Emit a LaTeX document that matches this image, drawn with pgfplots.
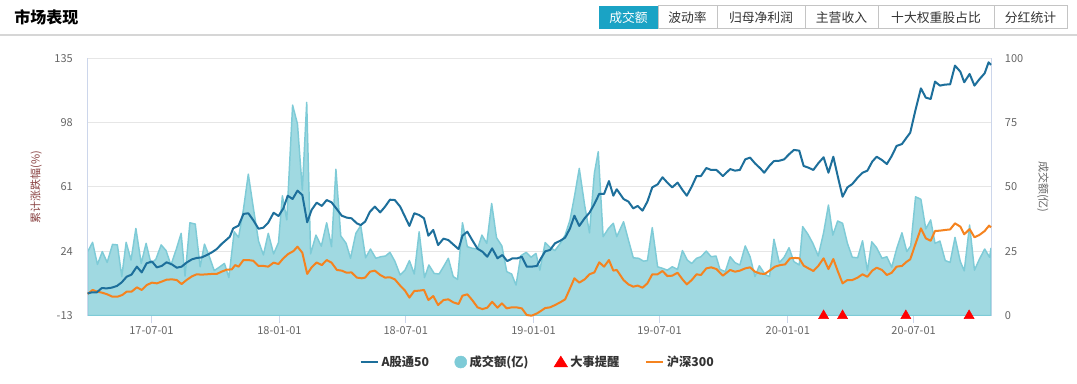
\documentclass[border=0pt]{standalone}
\usepackage{fontspec}
\setmainfont{Noto Sans CJK SC}
\usepackage{pgfplots}
\pgfplotsset{compat=1.18}
\definecolor{blueline}{HTML}{1D6F9B}
\definecolor{orangeline}{HTML}{F5831F}
\definecolor{areafill}{HTML}{A0D9E1}
\definecolor{areaedge}{HTML}{7ECBD7}
\definecolor{axiscol}{HTML}{CCD6EB}
\definecolor{gridcol}{HTML}{E6E6E6}
\definecolor{tickcol}{HTML}{666666}
\definecolor{llabelcol}{HTML}{8B4444}
\definecolor{rlabelcol}{HTML}{666666}
\definecolor{legtext}{HTML}{333333}
\definecolor{activebtn}{HTML}{1AA3C5}
\definecolor{btnborder}{HTML}{C4C4C4}
\definecolor{sepcol}{HTML}{D6D6D6}
\newcommand\ticksize{\fontsize{8.25pt}{9pt}\selectfont}
\newcommand\legfont{\fontsize{9.2pt}{10pt}\selectfont\bfseries}
\newcommand\btnfont{\fontsize{9.6pt}{10pt}\selectfont}
\newcommand\titlefont{\fontsize{12pt}{13pt}\selectfont\bfseries}

\pgfplotstableread{
w v
0 24.9
1.0 28.5
2.0 19.9
3.0 24.9
4.0 20.7
5.1 27.7
6.1 27.5
7.0 15.2
7.9 28.5
8.9 21.6
9.9 33.9
11.0 20.3
12.0 28.1
13.0 20.3
14.0 21.9
15.1 27.5
16.1 25.3
17.1 19.7
18.2 25.8
19.2 32.0
20.0 15.4
21.0 36.1
22.1 35.6
23.1 19.0
24.0 27.8
25.0 22.9
26.0 17.5
27.0 18.8
28.1 20.3
29.0 14.8
30.1 32.6
31.0 30.4
32.0 41.3
33.0 55.0
34.0 42.3
35.1 29.0
36.1 23.6
37.1 32.0
38.2 24.0
39.2 28.4
40.0 46.6
40.9 37.2
42.1 81.8
43.1 74.5
44.1 48.8
45.0 82.9
45.8 24.0
46.9 31.3
48.0 27.0
49.1 36.1
50.1 26.8
51.0 56.9
52.0 31.0
53.1 28.1
54.0 22.3
55.1 32.0
56.1 35.0
57.1 22.5
58.1 25.9
59.2 22.3
60.2 22.9
61.2 23.2
62.1 24.6
63.1 21.2
64.2 15.8
65.2 17.7
66.1 21.4
67.1 16.2
68.1 32.6
69.2 14.8
70.1 19.7
71.2 16.4
72.2 16.2
73.1 19.0
74.1 22.3
75.1 15.2
76.0 14.1
77.0 36.1
78.0 26.8
79.0 26.2
80.1 25.9
81.0 31.3
82.0 28.1
83.0 43.6
84.0 30.3
85.1 27.1
86.1 17.1
87.1 16.2
88.0 11.9
89.0 23.3
90.1 24.6
91.1 22.7
92.1 24.2
92.9 17.7
94.0 28.4
95.0 26.5
96.0 25.3
97.1 28.1
98.1 31.3
99.1 37.2
100.0 46.2
101.0 57.2
102.1 43.0
103.1 32.2
104.1 55.3
104.9 63.7
105.9 30.7
107.0 33.9
108.0 35.9
108.7 30.7
110.1 36.5
111.1 29.4
112.1 22.5
113.2 22.3
114.2 21.2
115.0 21.4
116.0 34.2
117.1 19.0
118.1 18.4
119.1 17.7
120.1 19.0
121.2 18.0
122.2 25.3
123.2 21.6
124.1 20.3
125.1 22.3
126.0 22.9
127.1 25.1
128.1 22.9
129.1 23.2
129.9 18.0
131.0 17.1
132.0 22.9
133.0 20.6
134.0 19.7
135.1 27.1
136.1 22.9
137.1 15.2
138.0 19.4
139.2 16.0
140.1 15.2
141.0 29.7
142.1 20.6
143.1 22.7
144.1 26.4
145.1 21.0
146.2 19.7
146.9 34.6
148.0 31.6
149.0 28.1
150.1 23.2
151.2 32.2
152.2 43.0
153.1 31.3
154.1 36.8
155.1 35.9
156.1 28.1
157.1 22.7
158.2 22.5
159.2 29.1
160.2 17.5
161.1 28.7
162.1 26.4
163.2 22.3
164.2 22.9
165.2 18.8
166.2 25.9
167.3 32.2
168.3 24.9
169.1 27.1
170.1 46.2
171.2 45.2
172.2 33.7
173.2 37.2
174.1 28.1
175.1 29.0
176.2 21.4
177.2 20.7
178.2 30.4
179.3 21.0
180.1 17.4
181.2 35.2
182.2 17.7
183.2 21.9
184.3 25.9
185.3 22.7
185.6 26.2
}\volume

\pgfplotstableread{
w v
0 -0.2
0.8 0.4
1.85 0.4
2.9 2.9
3.9 2.7
4.9 3.1
6.0 4.1
7.0 6.2
8.0 9.4
9.0 10.6
10.1 15.2
11.1 11.9
12.1 17.1
13.2 18.2
14.2 14.8
15.2 15.6
16.2 17.7
17.3 16.5
18.3 14.6
19.3 15.2
20.3 17.5
21.4 19.4
22.4 20.2
23.4 20.5
24.5 21.9
25.5 23.4
26.5 25.3
27.5 28.2
28.6 30.9
29.2 32.4
29.9 37.2
31.0 38.8
32.0 45.5
33.0 45.9
34.0 42.0
35.1 37.0
36.1 37.6
37.1 40.5
38.2 46.2
39.2 44.3
40.2 48.7
41.1 56.0
42.1 54.1
43.1 58.9
44.1 56.4
45.1 40.7
46.0 47.8
47.05 52.0
48.1 50.1
49.1 53.5
50.1 52.2
51.2 48.2
52.2 44.5
53.2 43.4
54.2 43.0
55.3 40.1
56.1 39.1
57.0 41.1
58.0 46.8
59.0 49.7
60.1 46.4
61.1 49.7
62.1 53.7
63.1 53.5
64.2 49.7
65.2 43.9
66.1 38.6
67.1 45.9
68.1 44.9
69.1 43.0
70.0 33.0
71.0 36.3
72.0 27.6
73.1 31.3
74.1 30.5
75.1 28.0
76.2 25.3
77.0 33.0
78.0 35.3
79.0 30.5
80.1 25.5
81.1 23.8
82.1 20.9
83.1 25.7
84.2 20.0
85.2 21.9
86.2 18.4
87.3 20.0
88.3 20.0
89.2 20.9
90.2 15.2
91.2 15.2
92.3 15.6
93.1 19.8
94.0 24.0
95.0 24.8
96.0 28.6
97.1 30.1
98.1 31.9
99.1 37.2
100.0 44.5
101.0 38.6
102.1 43.0
103.1 46.2
104.1 51.2
105.1 57.0
106.1 57.0
107.1 64.4
108.0 56.0
108.7 59.7
110.1 54.1
111.1 52.6
112.1 48.7
113.0 50.1
114.0 47.4
115.0 52.6
116.0 60.8
117.1 62.5
118.1 66.6
119.1 63.5
120.1 60.8
121.2 63.5
122.2 59.3
123.1 56.0
124.1 61.2
125.1 67.3
126.0 67.3
127.1 71.9
128.1 70.8
129.2 70.8
130.5 67.3
132.0 71.3
133.0 70.4
134.0 70.8
135.1 76.9
136.1 77.9
137.1 74.6
138.2 71.7
139.0 69.2
140.1 73.3
141.0 75.9
142.1 76.1
143.1 76.9
144.1 79.8
145.1 82.3
146.2 81.9
147.1 73.1
148.1 72.1
149.1 70.8
150.1 74.6
151.2 78.1
152.2 69.2
153.2 78.4
154.1 67.3
155.1 55.4
156.1 60.8
157.1 62.7
158.2 66.4
159.2 69.2
160.2 70.4
161.2 75.6
162.1 78.4
163.2 76.5
164.2 74.2
165.2 78.8
166.2 84.6
167.3 85.7
168.3 89.6
169.0 92.2
170.0 104.3
171.2 117.7
172.2 112.4
173.2 111.6
174.1 121.6
175.1 119.3
176.2 119.9
177.2 120.0
178.2 130.8
179.3 127.3
180.1 121.2
181.2 126.0
182.2 119.3
183.2 122.9
184.3 126.4
185.1 132.7
185.6 131.2
}\agt

\pgfplotstableread{
w v
0 -0.5
1.0 1.8
2.0 0.8
3.0 0.2
4.0 -0.7
5.1 -2.1
6.1 -2.1
7.1 -1.1
8.0 0.8
9.0 0.8
10.1 3.3
11.1 1.8
12.1 4.6
13.2 6.0
14.2 5.6
15.2 6.6
16.2 7.7
17.3 7.9
18.3 7.5
19.3 5.2
20.3 7.5
21.4 9.6
22.4 10.8
23.4 10.6
24.5 10.8
25.5 11.0
26.5 11.0
27.5 12.3
28.6 13.5
29.6 13.6
30.3 16.1
31.0 15.2
32.0 19.0
33.0 19.0
34.0 18.6
35.1 15.6
36.1 15.6
37.1 15.2
38.2 17.5
39.2 16.7
40.2 20.0
41.2 22.5
42.3 24.2
43.1 26.7
44.1 23.2
45.1 11.0
46.0 14.8
47.05 17.6
48.1 16.1
49.1 19.0
50.1 17.5
51.2 13.3
52.2 12.9
53.2 11.7
54.2 11.9
55.3 8.9
56.3 8.5
57.0 8.9
58.0 12.3
59.0 12.9
60.1 10.4
61.1 8.9
62.1 9.1
63.1 7.9
64.2 4.3
65.2 1.4
66.1 -2.6
67.1 1.2
68.1 1.4
69.1 1.8
70.0 -4.0
71.0 -1.7
72.0 -6.9
73.1 -4.0
74.1 -3.6
75.1 -5.3
76.2 -6.3
77.0 -1.5
78.0 -0.7
79.0 -4.0
80.1 -8.2
81.1 -9.2
82.1 -8.4
83.1 -5.0
84.2 -8.4
85.1 -5.9
86.1 -8.8
87.1 -8.2
88.1 -8.2
89.2 -8.8
90.2 -12.6
91.2 -13
92.3 -11.7
93.1 -10.3
94.0 -8.6
95.0 -8.2
96.0 -6.9
97.1 -5.3
98.1 -3.6
99.1 2.7
100.0 8.5
101.0 6.0
102.1 7.9
103.1 10.8
104.1 11.9
105.1 17.7
106.1 15.2
107.1 19.0
108.0 12.9
108.7 13.3
110.1 7.5
111.1 5.0
112.1 3.7
113.0 4.3
114.0 3.1
115.0 5.6
116.0 10.8
117.1 10.8
118.1 12.7
119.1 9.8
120.1 10.0
121.2 11.7
122.2 7.9
123.1 5.0
124.1 7.5
125.1 10.8
126.0 10.4
127.1 14.2
128.1 14.8
129.2 13.8
130.5 10.0
132.0 13.3
133.0 12.3
134.0 12.9
135.1 14.2
136.1 14.8
137.1 12.3
138.2 11.2
139.1 11.0
140.2 13.1
141.2 15.2
142.3 16.1
143.3 16.5
144.3 20.0
145.4 20.2
146.2 20.0
147.1 15.8
148.1 14.2
149.1 12.7
150.1 15.6
151.2 20.0
152.2 13.8
153.2 19.6
154.1 12.7
155.1 5.6
156.1 7.5
157.1 7.5
158.2 8.9
159.2 10.8
160.2 9.4
161.2 12.9
162.1 14.6
163.2 13.3
164.2 10.4
165.2 11.7
166.2 15.2
167.3 15.6
168.3 18.1
169.0 19.4
170.0 27.6
171.2 37.2
172.2 31.5
173.2 30.1
174.1 35.7
175.1 35.9
176.2 36.3
177.2 36.6
178.2 40.1
179.3 38.2
180.1 33.8
181.2 36.8
182.2 32.1
183.2 33.4
184.3 35.7
185.2 38.8
185.6 37.8
}\hs

\pgfplotstableread{
w v
151.2 -13
155.1 -13
168.1 -13
181.1 -13
}\events

\begin{document}
\begin{tikzpicture}[x=0.75pt,y=0.75pt]
\path[use as bounding box, fill=white] (0,0) rectangle (1077,384);
% header
\node[anchor=west, inner sep=0pt, font=\titlefont, text=black] at (14,367) {市场表现};
\draw[sepcol, line width=1.5pt] (0,349) -- (1077,349);
\fill[activebtn] (599,355) rectangle (658,378);
\foreach \a/\b in {658/717,717/805,805/878,878/994,994/1067}{
  \draw[btnborder, line width=0.75pt] (\a,355) rectangle (\b,378);
}
\node[font=\btnfont, text=white, inner sep=0pt] at (628.5,366.5) {成交额};
\node[font=\btnfont, text=legtext, inner sep=0pt] at (687.5,366.5) {波动率};
\node[font=\btnfont, text=legtext, inner sep=0pt] at (761,366.5) {归母净利润};
\node[font=\btnfont, text=legtext, inner sep=0pt] at (841.5,366.5) {主营收入};
\node[font=\btnfont, text=legtext, inner sep=0pt] at (936,366.5) {十大权重股占比};
\node[font=\btnfont, text=legtext, inner sep=0pt] at (1030.5,366.5) {分红统计};

\pgfplotsset{
  common/.style={
    at={(65.775pt,51.225pt)}, anchor=south west,
    width=677.475pt, height=193.05pt, scale only axis,
    xmin=0, xmax=185.6,
    ticklabel style={font=\ticksize, text=tickcol},
    /pgf/number format/assume math mode=true,
    ytick style={draw=none},
  }
}
% right axis: volume
\begin{axis}[common,
  ymin=0, ymax=100,
  axis x line*=bottom, axis y line*=right,
  axis line style={draw=axiscol, line width=0.75pt},
  xtick={13.1,39.4,65.35,91.6,117.5,143.85,169.7},
  xticklabels={17-07-01,18-01-01,18-07-01,19-01-01,19-07-01,20-01-01,20-07-01},
  ytick={0,25,50,75,100},
  ymajorgrids, grid style={draw=gridcol, line width=0.75pt},
  tick align=outside, major tick length=5.25pt,
  xtick style={draw=axiscol, line width=0.75pt},
  xticklabel style={inner sep=0pt, yshift=-2.5pt},
  yticklabel style={inner sep=0pt, anchor=west, xshift=5pt},
  ylabel={成交额(亿)},
  every axis y label/.style={at={(axis description cs:1.0576,0.5)}, rotate=-90, anchor=center, font=\ticksize, text=rlabelcol},
]
\addplot[draw=areaedge, line width=1.1pt, fill=areafill, line join=round] table[x=w,y=v]{\volume} \closedcycle;
\end{axis}
% left axis: cumulative change
\begin{axis}[common,
  ymin=-13, ymax=135,
  axis y line*=left, axis x line=none,
  axis line style={draw=axiscol, line width=0.75pt},
  xtick=\empty,
  ytick={-13,24,61,98,135},
  yticklabel style={inner sep=0pt, anchor=east, xshift=-11pt},
  ylabel={累计涨跌幅(\%)},
  every axis y label/.style={at={(axis description cs:-0.0572,0.5)}, rotate=90, anchor=center, font=\ticksize, text=llabelcol},
  clip=false,
  legend columns=4,
  legend style={at={(axis description cs:0.4985,-0.18)}, anchor=center, draw=none, fill=none, font=\legfont, text=legtext, inner sep=0pt,
    /tikz/every even column/.append style={column sep=17pt}},
]
\addlegendimage{legend image code/.code={\draw[blueline, line width=1.5pt] (0pt,0pt) -- (13pt,0pt);}}
\addlegendentry{A股通50}
\addlegendimage{legend image code/.code={\fill[areaedge] (6pt,0pt) circle (4.5pt);}}
\addlegendentry{成交额(亿)}
\addlegendimage{legend image code/.code={\fill[red] (1pt,-3.6pt) -- (11pt,-3.6pt) -- (6pt,4.4pt) -- cycle;}}
\addlegendentry{大事提醒}
\addlegendimage{legend image code/.code={\draw[orangeline, line width=1.5pt] (0pt,0pt) -- (13pt,0pt);}}
\addlegendentry{沪深300}
\addplot[forget plot, orangeline, line width=1.5pt, line join=round] table[x=w,y=v]{\hs};
\addplot[forget plot, blueline, line width=1.5pt, line join=round] table[x=w,y=v]{\agt};
\addplot[forget plot, only marks, mark=triangle*, mark size=4.3pt, mark options={fill=red, draw=red}] table[x=w,y=v]{\events};
\end{axis}
\end{tikzpicture}
\end{document}
